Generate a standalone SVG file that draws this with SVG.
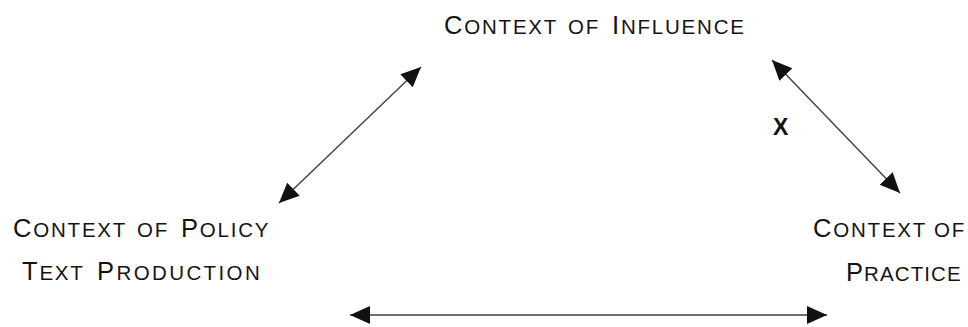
<svg xmlns="http://www.w3.org/2000/svg" width="968" height="327" viewBox="0 0 968 327">
  <style>
    .lbl { font-family: "Liberation Sans", Arial, sans-serif; fill: #141414; font-size: 20.5px; letter-spacing: 1.8px; }
    .cap { font-size: 25.5px; }
    .wide { letter-spacing: 2.4px; }
    .tight { letter-spacing: 1.1px; }
    .x { font-family: "Liberation Sans", Arial, sans-serif; font-weight: bold; font-size: 23px; fill: #111; }
    .conn { stroke: #404040; stroke-width: 1.4; fill: none; marker-start: url(#head); marker-end: url(#head); }
  </style>
  <defs>
    <marker id="head" markerUnits="userSpaceOnUse" markerWidth="22" markerHeight="20" refX="20" refY="9" orient="auto-start-reverse" viewBox="0 0 22 18">
      <path d="M0,0 L20,9 L0,18 Z" fill="#111"/>
    </marker>
  </defs>
  <rect width="968" height="327" fill="#ffffff"/>
  <g id="connectors">
    <line class="conn" x1="279" y1="203" x2="421" y2="67"/>
    <line class="conn" x1="772" y1="60" x2="900" y2="193"/>
    <line class="conn" x1="350" y1="315" x2="827" y2="315"/>
  </g>
  <g id="influence">
    <text class="lbl" y="34"><tspan x="444"><tspan class="cap">C</tspan>ONTEXT</tspan><tspan x="568">OF</tspan><tspan x="612"><tspan class="cap">I</tspan>NFLUENCE</tspan></text>
  </g>
  <g id="policy-text-production">
    <text class="lbl" y="237"><tspan x="13"><tspan class="cap">C</tspan>ONTEXT</tspan><tspan x="137">OF</tspan><tspan x="181"><tspan class="cap">P</tspan>OLICY</tspan></text>
    <text class="lbl" y="280"><tspan x="22"><tspan class="cap">T</tspan>EXT</tspan><tspan x="97" class="wide"><tspan class="cap">P</tspan>RODUCTION</tspan></text>
  </g>
  <g id="practice">
    <text class="lbl" y="237"><tspan x="813"><tspan class="cap">C</tspan>ONTEXT</tspan><tspan x="934">OF</tspan></text>
    <text class="lbl" y="281"><tspan x="846" class="tight"><tspan class="cap">P</tspan>RACTICE</tspan></text>
  </g>
  <g id="x-label">
    <text class="x" x="773" y="135">X</text>
  </g>
</svg>
